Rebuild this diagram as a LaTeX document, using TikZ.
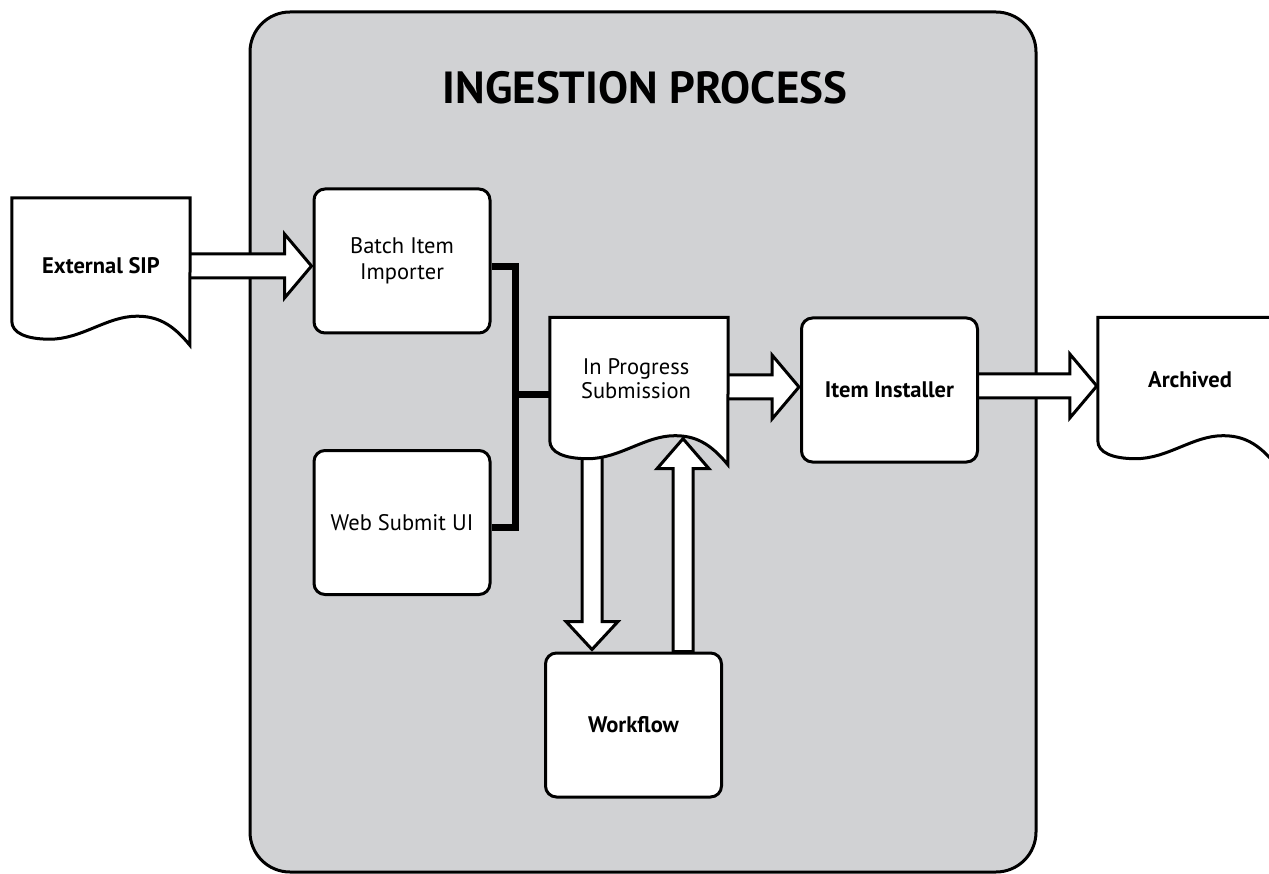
\documentclass[tikz,border=0pt]{standalone}
\usepackage{fontspec}
\setmainfont{PT Sans}
\usetikzlibrary{calc}
\pgfdeclarelayer{back}
\pgfdeclarelayer{mid}
\pgfsetlayers{back,mid,main}
\definecolor{panelgray}{HTML}{D1D2D4}
\tikzset{
  x=1pt, y=-1pt,
  panel/.style={draw=black, line width=3pt, fill=panelgray, rounded corners=40pt},
  procbox/.style={draw=black, line width=3pt, fill=white, rounded corners=11pt,
    minimum width=176pt, minimum height=144pt, inner sep=0pt, align=center,
    font=\fontsize{22.5}{26}\selectfont},
  docframe/.style={minimum width=178pt, minimum height=123pt, inner sep=0pt},
  doctext/.style={inner sep=0pt, align=center, font=\fontsize{22.5}{24}\selectfont},
  docline/.style={draw=black, line width=3pt, fill=white, line join=miter},
  barrow/.style={draw=black, line width=3pt, fill=white, line join=miter},
  bus/.style={draw=black, line width=7pt, line join=miter},
  titletext/.style={inner sep=0pt, font=\fontsize{45}{48}\selectfont\bfseries}
}
% document outline with a wavy lower edge, drawn on the frame of a node
\newcommand\docoutline[1]{%
  \draw[docline] (#1.south west) -- (#1.north west) -- (#1.north east)
    -- ([shift={(178,24)}]#1.south west)
    .. controls ([shift={(160,2)}]#1.south west) and ([shift={(145,-5)}]#1.south west)
    .. ([shift={(125,-5)}]#1.south west)
    .. controls ([shift={(95,-5)}]#1.south west) and ([shift={(70,18)}]#1.south west)
    .. ([shift={(38,18)}]#1.south west)
    .. controls ([shift={(15,18)}]#1.south west) and ([shift={(0,12)}]#1.south west)
    .. (#1.south west) -- cycle;}
% block arrows: start point gives the axis, end point gives the tip
\newcommand\rarrow[2]{%
  \draw[barrow] let \p1=(#1), \p2=(#2) in
    (\x1,\y1+12pt) -- (\x2-27pt,\y1+12pt) -- (\x2-27pt,\y1+32pt) -- (\x2,\y1)
    -- (\x2-27pt,\y1-32pt) -- (\x2-27pt,\y1-12pt) -- (\x1,\y1-12pt);}
\newcommand\darrow[2]{%
  \draw[barrow] let \p1=(#1), \p2=(#2) in
    (\x1-10pt,\y1) -- (\x1-10pt,\y2+28pt) -- (\x1-26pt,\y2+28pt) -- (\x1,\y2)
    -- (\x1+26pt,\y2+28pt) -- (\x1+10pt,\y2+28pt) -- (\x1+10pt,\y1);}
\newcommand\uarrow[2]{%
  \draw[barrow] let \p1=(#1), \p2=(#2) in
    (\x1-10pt,\y1) -- (\x1-10pt,\y2-30pt) -- (\x1-26pt,\y2-30pt) -- (\x1,\y2)
    -- (\x1+26pt,\y2-30pt) -- (\x1+10pt,\y2-30pt) -- (\x1+10pt,\y1) -- cycle;}
\begin{document}
\begin{tikzpicture}
  \useasboundingbox (0,0) rectangle (1269,874);
  \clip (0,0) rectangle (1269,874);

  % process panel
  \begin{pgfonlayer}{back}
    \draw[panel] (250,12) rectangle (1036,872);
  \end{pgfonlayer}
  \node[titletext] (title) at (645,88) {INGESTION PROCESS};

  % document frames and process boxes
  \node[docframe] (sip)  at (101,259.5) {};
  \node[docframe] (prog) at (639,379) {};
  \node[docframe] (arch) at (1187,379) {};
  \coordinate (jn) at (515,395);

  \node[procbox] (bat) at (402,261) {Batch Item\\Importer};
  \node[procbox] (web) at (402,522.5) {Web Submit UI};
  \node[procbox] (wf)  at (633.5,725) {\bfseries Workflow};
  \node[procbox] (ins) at (889.5,390) {\bfseries Item Installer};

  % block arrows, kept under the boxes
  \begin{pgfonlayer}{mid}
    \rarrow{[yshift=-6.5pt]sip.east}{[xshift=-1pt]bat.west}
    \rarrow{[yshift=-8pt]prog.east}{[xshift=-1pt]ins.west}
    \rarrow{[yshift=4pt]ins.east}{[xshift=-1pt]arch.west}
    \darrow{[xshift=-47pt]prog.south}{[yshift=2pt]wf.north}
    \uarrow{[xshift=49.5pt]wf.north}{[yshift=2pt]prog.south}
  \end{pgfonlayer}

  % merge bus into the submission
  \draw[bus] ([yshift=-6pt]bat.east) -| (jn);
  \draw[bus] ([yshift=-4.5pt]web.east) -| (jn);
  \draw[bus] (jn) -- (prog.west |- jn);

  % documents
  \docoutline{sip}
  \docoutline{prog}
  \docoutline{arch}
  \node[doctext, font=\fontsize{22.5}{24}\selectfont\bfseries] (siptxt) at ([yshift=-6.5pt]sip.center) {External SIP};
  \node[doctext] (progtxt) at ([shift={(-3,0)}]prog.center) {In Progress\\Submission};
  \node[doctext, font=\fontsize{22.5}{24}\selectfont\bfseries] (archtxt) at ([shift={(3,1)}]arch.center) {Archived};
\end{tikzpicture}
\end{document}
